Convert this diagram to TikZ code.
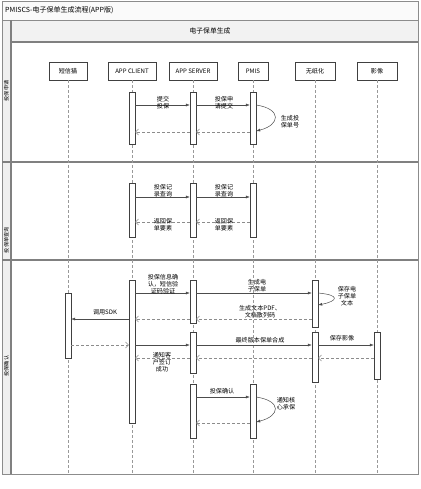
\documentclass[tikz,border=0pt]{standalone}
\usepackage{fontspec}
\newfontfamily\cjk{Noto Sans CJK SC}
\usetikzlibrary{arrows.meta}
\begin{document}
\begin{tikzpicture}[x=1pt,y=-1pt,
  font=\cjk\fontsize{6.1}{7.2}\selectfont,
  actor/.style={draw=black!75, fill=white, minimum height=18pt, inner sep=1pt},
  actbar/.style={draw=black!75, fill=white, minimum width=6pt, inner sep=0pt},
  msg/.style={draw=black!70, line width=0.5pt, -{Latex[length=4pt,width=3pt]}},
  ret/.style={draw=black!45, line width=0.5pt, dash pattern=on 3pt off 2pt, -{Straight Barb[length=3pt,width=6pt]}},
  life/.style={draw=black!40, line width=0.5pt, dash pattern=on 3pt off 2pt},
  lbl/.style={align=center, inner sep=0pt, text=black},
  lanelbl/.style={rotate=90, inner sep=0pt, font=\cjk\fontsize{5.2}{5.2}\selectfont},
  sepline/.style={draw=black!50, line width=1.2pt}
]
\useasboundingbox (0,0) rectangle (420,489);
% frame
\fill[black!2] (2,1) rectangle (418,20);
\fill[black!5] (11,20) rectangle (418,42);
\fill[black!6] (2,20) rectangle (11,474);
\draw[black!45, line width=0.6pt] (2,1) rectangle (418,474);
\draw[black!45, line width=0.6pt] (2,20) -- (418,20);
\draw[sepline] (11,42) -- (418,42);
\draw[sepline] (11,20) -- (11,474);
\draw[sepline] (2,162) -- (418,162);
\draw[sepline] (2,260) -- (418,260);
\node[anchor=west, inner sep=0pt, font=\cjk\fontsize{7}{8}\selectfont] (title) at (5,10) {PMISCS-电子保单生成流程(APP版)};
\node[inner sep=0pt, font=\cjk\fontsize{6.8}{8}\selectfont] (head) at (210,31) {电子保单生成};
\node[lanelbl] (lane1) at (6.5,91) {投保申请};
\node[lanelbl] (lane2) at (6.5,240) {投保单查询};
\node[lanelbl] (lane3) at (6.5,366) {投保确认};
% actors
\node[actor, minimum width=38pt] (sms) at (68,71) {短信猫};
\node[actor, minimum width=48pt] (cli) at (132,71) {APP CLIENT};
\node[actor, minimum width=48pt] (srv) at (193,71) {APP SERVER};
\node[actor, minimum width=30pt] (pmis) at (253,71) {PMIS};
\node[actor, minimum width=40pt] (wzh) at (315,71) {无纸化};
\node[actor, minimum width=40pt] (yx) at (377,71) {影像};
\foreach \a in {sms,cli,srv,pmis,wzh,yx}
  \draw[life] (\a.south) -- (\a.south |- 0,474);
% activation bars
\node[actbar, minimum height=52pt] (c1) at (132,118) {};
\node[actbar, minimum height=52pt] (s1) at (193,118) {};
\node[actbar, minimum height=52pt] (p1) at (253,118) {};
\node[actbar, minimum height=54pt] (c2) at (132,210) {};
\node[actbar, minimum height=54pt] (s2) at (193,210) {};
\node[actbar, minimum height=54pt] (p2) at (253,210) {};
\node[actbar, minimum height=143pt] (c3) at (132,351.5) {};
\node[actbar, minimum height=65pt] (m3) at (68,325.5) {};
\node[actbar, minimum height=43pt] (s3a) at (193,301.5) {};
\node[actbar, minimum height=41pt] (s3b) at (193,352.5) {};
\node[actbar, minimum height=54pt] (s3c) at (193,411) {};
\node[actbar, minimum height=54pt] (p3) at (253,411) {};
\node[actbar, minimum height=47pt] (w3a) at (315,303.5) {};
\node[actbar, minimum height=50pt] (w3b) at (315,357) {};
\node[actbar, minimum height=47pt] (y3) at (377,355.5) {};
% lane 1
\draw[msg] (c1.east |- 0,105) -- (s1.west |- 0,105);
\node[lbl] (t11) at (163,103) {提交\\投保};
\draw[msg] (s1.east |- 0,105) -- (p1.west |- 0,105);
\node[lbl] (t12) at (224,103) {投保申\\请提交};
\draw[msg] (p1.east |- 0,105) .. controls +(26,4) and +(24,-6) .. (p1.east |- 0,131);
\node[lbl] (t13) at (290,122) {生成投\\保单号};
\draw[ret] (p1.west |- 0,132) -- (s1.east |- 0,132);
\draw[ret] (s1.west |- 0,132) -- (c1.east |- 0,132);
% lane 2
\draw[msg] (c2.east |- 0,197) -- (s2.west |- 0,197);
\node[lbl] (t21) at (163,191) {投保记\\录查询};
\draw[msg] (s2.east |- 0,197) -- (p2.west |- 0,197);
\node[lbl] (t22) at (224,191) {投保记\\录查询};
\draw[ret] (p2.west |- 0,222) -- (s2.east |- 0,222);
\node[lbl] (t23) at (224,225) {返回保\\单要素};
\draw[ret] (s2.west |- 0,222) -- (c2.east |- 0,222);
\node[lbl] (t24) at (163,225) {返回保\\单要素};
% lane 3
\draw[msg] (c3.east |- 0,293) -- (s3a.west |- 0,293);
\node[lbl] (t31) at (163,284) {投保信息确\\认，短信验\\证码验证};
\draw[msg] (s3a.east |- 0,293) -- (w3a.west |- 0,293);
\node[lbl] (t32) at (257,286) {生成电\\子保单};
\draw[msg] (w3a.east |- 0,293) .. controls +(22,2) and +(20,-4) .. (w3a.east |- 0,305);
\node[lbl] (t33) at (347,296) {保存电\\子保单\\文本};
\draw[ret] (w3a.west |- 0,319) -- (s3a.east |- 0,319);
\node[lbl] (t34) at (260,312) {生成文本PDF、\\文档散列码};
\draw[ret] (s3a.west |- 0,319) -- (c3.east |- 0,319);
\draw[msg] (c3.west |- 0,319) -- (m3.east |- 0,319);
\node[lbl] (t35) at (105,312) {调用SDK};
\draw[ret] (m3.east |- 0,345) -- (c3.west |- 0,345);
\draw[msg] (c3.east |- 0,345) -- (s3b.west |- 0,345);
\draw[msg] (s3b.east |- 0,345) -- (w3b.west |- 0,345);
\node[lbl] (t36) at (260,340) {最终版本保单合成};
\draw[msg] (w3b.east |- 0,345) -- (y3.west |- 0,345);
\node[lbl] (t37) at (342,338) {保存影像};
\draw[ret] (y3.west |- 0,358) -- (w3b.east |- 0,358);
\draw[ret] (w3b.west |- 0,358) -- (s3b.east |- 0,358);
\draw[ret] (s3b.west |- 0,358) -- (c3.east |- 0,358);
\node[lbl] (t38) at (162,362) {通知客\\户签订\\成功};
\draw[msg] (s3c.east |- 0,397) -- (p3.west |- 0,397);
\node[lbl] (t39) at (222,391) {投保确认};
\draw[msg] (p3.east |- 0,397) .. controls +(26,4) and +(24,-6) .. (p3.east |- 0,422);
\node[lbl] (t40) at (286,404) {通知核\\心承保};
\draw[ret] (p3.west |- 0,423) -- (s3c.east |- 0,423);
\end{tikzpicture}
\end{document}
